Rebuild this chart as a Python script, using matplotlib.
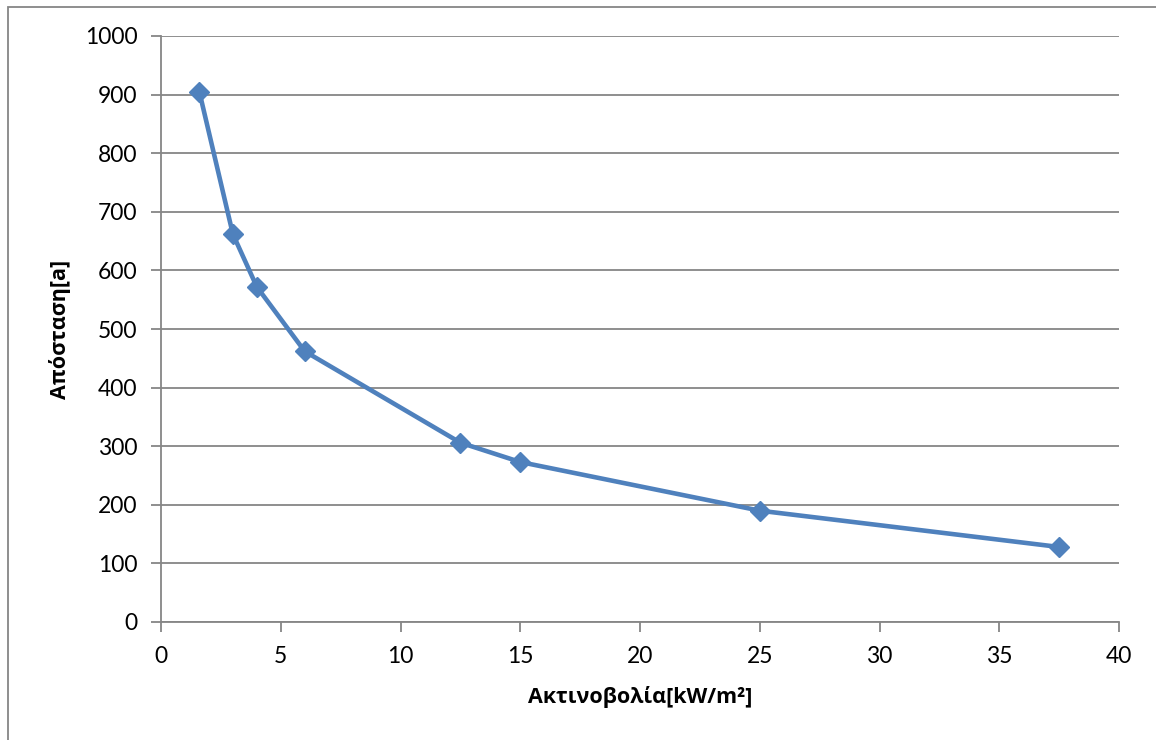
import matplotlib
matplotlib.use("Agg")
from matplotlib import pyplot as plt
from matplotlib.patches import Rectangle

# data
radiation = [1.6, 3, 4, 6, 12.5, 15, 25, 37.5]
distance = [905, 662, 572, 462, 306, 273, 190, 128]

x_label = "Ακτινοβολία[kW/m²]"
y_label = "Απόσταση[a]"

blue = "#4F81BD"
grey = "#868686"
fonts = ["Lato", "Open Sans", "DejaVu Sans"]
label_fonts = ["Open Sans", "Noto Sans", "DejaVu Sans"]

plt.rcParams["font.family"] = fonts

W, H = 1156, 740
fig = plt.figure(figsize=(W / 100, H / 100), dpi=100)
ax = fig.add_axes([161 / W, 1 - 622 / H, (1119 - 161) / W, (622 - 36) / H])

# outer chart frame (runs off the right and bottom edges of the image)
frame = Rectangle((8 / W, -0.05), 1.2, 1 - 7 / H + 0.05, transform=fig.transFigure,
                  fill=False, edgecolor=grey, linewidth=1.3, clip_on=False)
fig.patches.append(frame)

ax.plot(radiation, distance, color=blue, linewidth=3.3, marker="D", markersize=10.5,
        markerfacecolor=blue, markeredgecolor=blue, zorder=3)

ax.set_xlim(0, 40)
ax.set_ylim(0, 1000)
ax.set_xticks(range(0, 41, 5))
ax.set_yticks(range(0, 1001, 100))
ax.grid(axis="y", color=grey, linewidth=1.3)
ax.set_axisbelow(True)

for side in ("top", "right"):
    ax.spines[side].set_visible(False)
for side in ("left", "bottom"):
    ax.spines[side].set_color(grey)
    ax.spines[side].set_linewidth(1.3)

ax.tick_params(axis="both", direction="out", length=7, width=1.3, color=grey,
               labelsize=16.5, pad=10)

ax.set_xlabel(x_label, fontsize=15.5, fontweight="bold", family=label_fonts, labelpad=14)
ax.set_ylabel(y_label, fontsize=15.5, fontweight="bold", family=label_fonts, labelpad=10)

fig.savefig("out.png", dpi=100)
